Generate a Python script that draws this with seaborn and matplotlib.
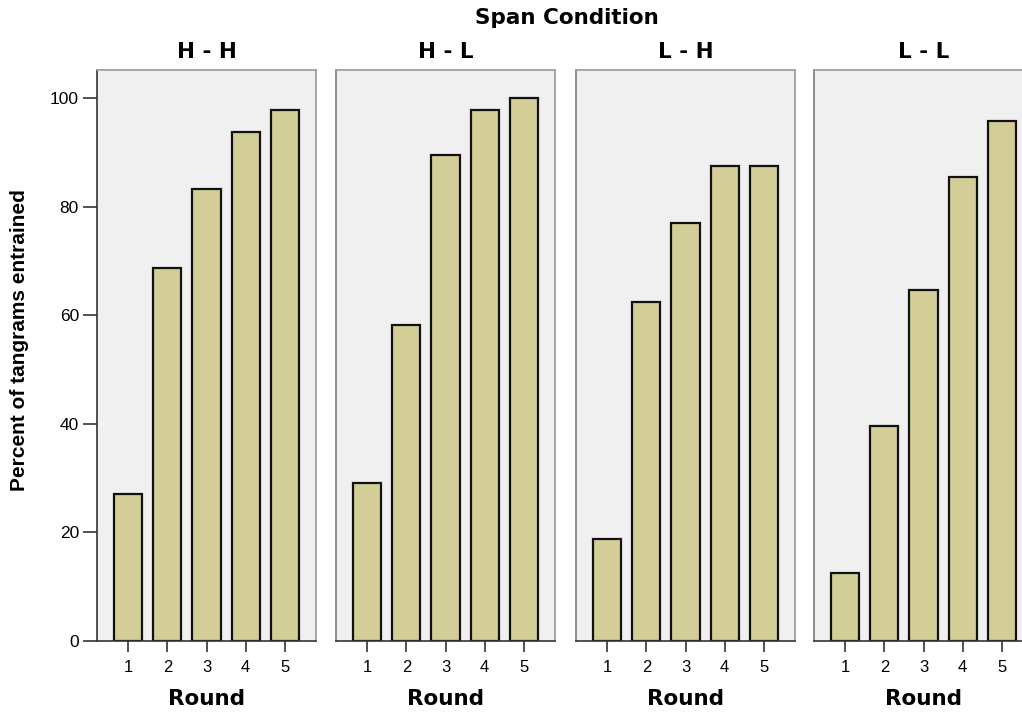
import matplotlib
matplotlib.use("Agg")
import matplotlib.pyplot as plt
import seaborn as sns
import pandas as pd

# ---- data ----
conditions = ["H - H", "H - L", "L - H", "L - L"]
rounds = ["1", "2", "3", "4", "5"]
hh_values = [27.1, 68.8, 83.3, 93.8, 97.9]
hl_values = [29.2, 58.3, 89.6, 97.9, 100.0]
lh_values = [18.8, 62.5, 77.1, 87.5, 87.5]
ll_values = [12.5, 39.6, 64.6, 85.4, 95.8]
y_ticks = [0, 20, 40, 60, 80, 100]

series = [hh_values, hl_values, lh_values, ll_values]
rows = []
for cond, vals in zip(conditions, series):
    for r, v in zip(rounds, vals):
        rows.append({"Condition": cond, "Round": r, "Percent": v})
df = pd.DataFrame(rows)

sns.set_style("white")
plt.rcParams["font.family"] = ["Liberation Sans", "DejaVu Sans"]
plt.rcParams["text.color"] = "black"
plt.rcParams["xtick.labelcolor"] = "black"
plt.rcParams["ytick.labelcolor"] = "black"

W, H = 1022, 715
fig = plt.figure(figsize=(W / 100, H / 100), dpi=100)
fig.patch.set_facecolor("white")

lefts = [97, 336, 576, 814]
ax_w = 219
ax_top, ax_bot = 70, 641
title_font = dict(family="DejaVu Sans", fontsize=15.5, fontweight="bold", color="black")

bar_color = "#d3ce97"
for i, cond in enumerate(conditions):
    ax = fig.add_axes([lefts[i] / W, (H - ax_bot) / H, ax_w / W, (ax_bot - ax_top) / H])
    sub = df[df["Condition"] == cond]
    sns.barplot(data=sub, x="Round", y="Percent", order=rounds, color=bar_color,
                saturation=1, edgecolor="#111111", linewidth=1.6, width=0.72, ax=ax)
    ax.set_facecolor("#f0f0f0")
    ax.set_xlim(-0.8, 4.8)
    ax.set_ylim(0, 105.2)
    ax.set_xlabel("")
    ax.set_ylabel("")
    for s in ["top", "right"]:
        ax.spines[s].set_color("#9a9a9a")
        ax.spines[s].set_linewidth(1.2)
    ax.spines["bottom"].set_color("#333333")
    ax.spines["bottom"].set_linewidth(1.2)
    ax.spines["left"].set_linewidth(1.2)
    ax.spines["left"].set_color("#333333" if i == 0 else "#7a7a7a")
    ax.tick_params(axis="x", direction="out", length=8, width=1.2, color="#333333",
                   labelsize=12, pad=6, bottom=True, labelcolor="black")
    ax.set_yticks(y_ticks)
    if i == 0:
        ax.tick_params(axis="y", direction="out", length=10, width=1.2, color="#333333",
                       labelsize=12.5, pad=3, left=True, labelcolor="black")
    else:
        ax.tick_params(axis="y", left=False, labelleft=False)
    cx = (lefts[i] + ax_w / 2) / W
    fig.text(cx, 1 - 52 / H, cond, ha="center", va="center", **title_font)
    fig.text(cx, 1 - 699 / H, "Round", ha="center", va="center", **title_font)

fig.text(567 / W, 1 - 18 / H, "Span Condition", ha="center", va="center", **title_font)
fig.text(20 / W, 1 - 340 / H, "Percent of tangrams entrained", ha="center", va="center",
         rotation=90, fontsize=15, fontweight="bold", color="black")

fig.savefig("out.png", dpi=100)
